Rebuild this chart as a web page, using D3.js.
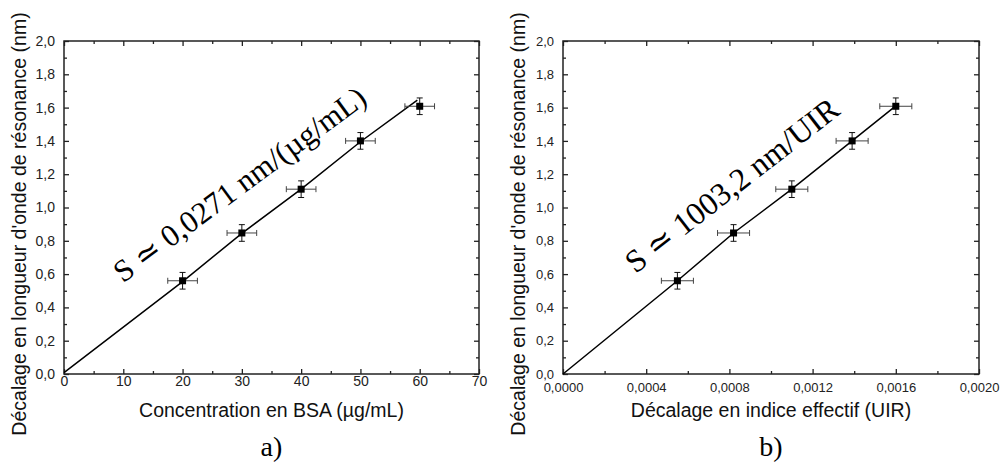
<!DOCTYPE html>
<html><head><meta charset="utf-8">
<script src="https://cdn.jsdelivr.net/npm/d3@7"></script>
<style>body{margin:0;background:#fff} svg{display:block}</style>
</head><body><svg id="chart" width="1002" height="465"></svg>
<script>
// ---- data ----
const concA = [20, 30, 40, 50, 60];
const shiftA = [0.56, 0.847, 1.11, 1.40, 1.608];
const concErr = [2.5, 2.5, 2.5, 2.5, 2.5];
const shiftErr = [0.05, 0.05, 0.05, 0.05, 0.05];
const indexB = [0.00055, 0.00082, 0.00110, 0.00139, 0.00160];
const shiftB = [0.56, 0.847, 1.11, 1.40, 1.608];
const indexErr = [0.000077, 0.000077, 0.000077, 0.000077, 0.000077];
const fitAX = [0, 20, 30, 40, 50, 59.6];
const fitAY = [0.008, 0.555, 0.845, 1.11, 1.395, 1.645];
const fitBX = [0, 0.00055, 0.00082, 0.00110, 0.00139, 0.00160];
const fitBY = [0, 0.56, 0.847, 1.11, 1.40, 1.61];
const yTicks = [0, 0.2, 0.4, 0.6, 0.8, 1.0, 1.2, 1.4, 1.6, 1.8, 2.0];
const yMinor = [0.1, 0.3, 0.5, 0.7, 0.9, 1.1, 1.3, 1.5, 1.7, 1.9];
const xTicksA = [0, 10, 20, 30, 40, 50, 60, 70];
const xMinorA = [5, 15, 25, 35, 45, 55, 65];
const xTicksB = [0, 0.0004, 0.0008, 0.0012, 0.0016, 0.0020];
const xMinorB = [0.0002, 0.0006, 0.0010, 0.0014, 0.0018];
const yTitle = "Décalage en longueur d'onde de résonance (nm)";
const xTitleA = "Concentration en BSA (µg/mL)";
const xTitleB = "Décalage en indice effectif (UIR)";
const annotA = "S \u2243 0,0271 nm/(µg/mL)";
const annotB = "S \u2243 1003,2 nm/UIR";

const loc = d3.formatLocale({decimal: ",", thousands: ".", grouping: [3], currency: ["", ""]});
const svg = d3.select("#chart");
const sans = "'Liberation Sans', Arial, sans-serif";
const serif = "'Liberation Serif', 'DejaVu Serif', serif";

function panel(o) {
  const x = d3.scaleLinear().domain(o.xDomain).range([o.left, o.right]);
  const y = d3.scaleLinear().domain([0, 2]).range([374, 41]);
  const g = svg.append("g");
  const fy = loc.format(".1f");

  function ax(gen, tr, fs) {
    const a = g.append("g").attr("transform", tr).call(gen);
    a.select(".domain").remove();
    a.selectAll("line").attr("stroke", "#222").attr("stroke-width", 1.3);
    a.selectAll("text").attr("font-family", sans).attr("font-size", fs || 14).attr("fill", "#222");
    return a;
  }
  // major ticks
  ax(d3.axisBottom(x).tickValues(o.xTicks).tickSize(-5).tickPadding(o.xPad).tickFormat(o.xFmt), `translate(0,${y(0)})`, o.tickFs);
  ax(d3.axisTop(x).tickValues(o.xTicks).tickSize(-5).tickFormat(""), `translate(0,${y(2)})`);
  ax(d3.axisLeft(y).tickValues(yTicks).tickSize(-5).tickPadding(9).tickFormat(fy), `translate(${o.left},0)`, o.tickFs);
  ax(d3.axisRight(y).tickValues(yTicks).tickSize(-5).tickFormat(""), `translate(${o.right},0)`);
  // minor ticks
  ax(d3.axisBottom(x).tickValues(o.xMinor).tickSize(-3).tickFormat(""), `translate(0,${y(0)})`);
  ax(d3.axisTop(x).tickValues(o.xMinor).tickSize(-3).tickFormat(""), `translate(0,${y(2)})`);
  ax(d3.axisLeft(y).tickValues(yMinor).tickSize(-3).tickFormat(""), `translate(${o.left},0)`);
  ax(d3.axisRight(y).tickValues(yMinor).tickSize(-3).tickFormat(""), `translate(${o.right},0)`);

  // frame
  g.append("rect").attr("x", o.left).attr("y", y(2)).attr("width", o.right - o.left).attr("height", y(0) - y(2))
    .attr("fill", "none").attr("stroke", "#222").attr("stroke-width", 1.5);

  // fit line
  const fit = o.fitX.map((v, i) => [v, o.fitY[i]]);
  g.append("path").datum(fit).attr("d", d3.line().x(d => x(d[0])).y(d => y(d[1])))
    .attr("fill", "none").attr("stroke", "#000").attr("stroke-width", 1.5);

  const pts = o.px.map((v, i) => ({x: v, y: o.py[i], ex: o.ex[i], ey: shiftErr[i]}));
  const eb = g.append("g");
  pts.forEach(p => {
    const cx = x(p.x), cy = y(p.y);
    const x0 = x(p.x - p.ex), x1 = x(p.x + p.ex), y0 = y(p.y - p.ey), y1 = y(p.y + p.ey);
    const gx = eb.append("g").attr("stroke", "#444").attr("stroke-width", 1);
    gx.append("line").attr("x1", x0).attr("x2", x1).attr("y1", cy).attr("y2", cy);
    gx.append("line").attr("x1", x0).attr("x2", x0).attr("y1", cy - 3).attr("y2", cy + 3);
    gx.append("line").attr("x1", x1).attr("x2", x1).attr("y1", cy - 3).attr("y2", cy + 3);
    const gy = eb.append("g").attr("stroke", "#111").attr("stroke-width", 1);
    gy.append("line").attr("x1", cx).attr("x2", cx).attr("y1", y0).attr("y2", y1);
    gy.append("line").attr("x1", cx - 3).attr("x2", cx + 3).attr("y1", y0).attr("y2", y0);
    gy.append("line").attr("x1", cx - 3).attr("x2", cx + 3).attr("y1", y1).attr("y2", y1);
  });
  g.append("g").selectAll("rect").data(pts).join("rect")
    .attr("x", d => x(d.x) - 3.5).attr("y", d => y(d.y) - 3.5).attr("width", 7).attr("height", 7).attr("fill", "#000");

  // titles
  const cxm = (o.left + o.right) / 2;
  g.append("text").attr("x", cxm).attr("y", 417).attr("text-anchor", "middle")
    .attr("font-family", sans).attr("font-size", 19.5).attr("fill", "#111").text(o.xTitle);
  g.append("text").attr("transform", `translate(${o.left - 38},${224}) rotate(-90)`).attr("text-anchor", "middle")
    .attr("font-family", sans).attr("font-size", 19.5).attr("fill", "#111").text(yTitle);
  g.append("text").attr("x", cxm).attr("y", 456).attr("text-anchor", "middle")
    .attr("font-family", serif).attr("font-size", 28).attr("fill", "#000").text(o.letter);

  // annotation
  g.append("text").attr("transform", `translate(${x(o.annX)},${y(o.annY)}) rotate(${o.annAngle})`)
    .attr("text-anchor", "middle").attr("dominant-baseline", "central")
    .attr("font-family", serif).attr("font-size", o.annFs).attr("fill", "#000").text(o.annot);
}

panel({left: 64, right: 479, xDomain: [0, 70], xTicks: xTicksA, xMinor: xMinorA, xFmt: d3.format("d"),
  px: concA, py: shiftA, ex: concErr, fitX: fitAX, fitY: fitAY, xTitle: xTitleA, letter: "a)",
  annot: annotA, annX: 29.6, annY: 1.14, annAngle: -36.5, annFs: 31, xPad: 2, tickFs: 14});
panel({left: 563, right: 979, xDomain: [0, 0.002], xTicks: xTicksB, xMinor: xMinorB, xFmt: loc.format(".4f"),
  px: indexB, py: shiftB, ex: indexErr, fitX: fitBX, fitY: fitBY, xTitle: xTitleB, letter: "b)",
  annot: annotB, annX: 0.000811, annY: 1.135, annAngle: -38, annFs: 32, xPad: 9, tickFs: 13});
</script>
</body></html>
